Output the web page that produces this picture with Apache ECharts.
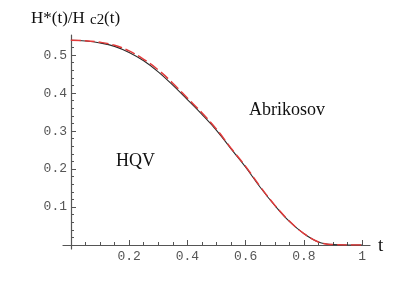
<!DOCTYPE html>
<html>
<head>
<meta charset="utf-8">
<script src="https://cdn.jsdelivr.net/npm/echarts@6/dist/echarts.min.js"></script>
<style>
html,body{margin:0;padding:0;background:#fff;}
#c{width:415px;height:289px;}
</style>
</head>
<body>
<div id="c"></div>
<script>
var tValues = [0, 0.05, 0.1, 0.15, 0.2, 0.25, 0.3, 0.35, 0.4, 0.45, 0.5, 0.55, 0.6, 0.65, 0.7, 0.75, 0.8, 0.85, 0.9, 0.95, 1.0];
var blackCurve = [0.539, 0.537, 0.532, 0.523, 0.507, 0.485, 0.456, 0.421, 0.383, 0.344, 0.302, 0.253, 0.205, 0.152, 0.104, 0.062, 0.030, 0.008, 0.001, 0, 0];
var redCurve = [0.539, 0.538, 0.534, 0.526, 0.511, 0.489, 0.461, 0.426, 0.387, 0.348, 0.305, 0.255, 0.207, 0.154, 0.105, 0.063, 0.030, 0.008, 0.001, 0, 0];
var xMajorTicks = [0.2, 0.4, 0.6, 0.8, 1];
var xMinorTicks = [0.05, 0.1, 0.15, 0.25, 0.3, 0.35, 0.45, 0.5, 0.55, 0.65, 0.7, 0.75, 0.85, 0.9, 0.95];
var yMajorTicks = [0.1, 0.2, 0.3, 0.4, 0.5];
var yMinorTicks = [0.02, 0.04, 0.06, 0.08, 0.12, 0.14, 0.16, 0.18, 0.22, 0.24, 0.26, 0.28, 0.32, 0.34, 0.36, 0.38, 0.42, 0.44, 0.46, 0.48, 0.52, 0.54];

function pairs(xs, ys) { return xs.map(function (x, i) { return [x, ys[i]]; }); }
function fmt(v) { return Math.abs(v - 1) < 1e-9 ? '1' : v.toFixed(1); }

var axisColor = '#555';
var labelStyle = { fontFamily: 'Liberation Mono', fontSize: 13, color: '#555' };

var chart = echarts.init(document.getElementById('c'), null, { renderer: 'canvas' });
chart.setOption({
  animation: false,
  grid: [
    { left: 63, top: 35, width: 307, height: 210 },
    { left: 71, top: 35, width: 291, height: 214 }
  ],
  xAxis: [
    { gridIndex: 0, type: 'value', min: -0.027, max: 1.027, position: 'bottom',
      axisLine: { onZero: false, lineStyle: { color: axisColor, width: 1.2 } },
      axisTick: { inside: true, length: 5, customValues: xMajorTicks, lineStyle: { color: axisColor } },
      axisLabel: { customValues: xMajorTicks, formatter: fmt, margin: 5, fontFamily: labelStyle.fontFamily, fontSize: labelStyle.fontSize, color: labelStyle.color },
      splitLine: { show: false } },
    { gridIndex: 0, type: 'value', min: -0.027, max: 1.027, position: 'bottom',
      axisLine: { show: false, onZero: false },
      axisTick: { inside: true, length: 3, customValues: xMinorTicks, lineStyle: { color: axisColor } },
      axisLabel: { show: false },
      splitLine: { show: false } },
    { gridIndex: 1, type: 'value', min: 0, max: 1, show: false }
  ],
  yAxis: [
    { gridIndex: 0, type: 'value', min: 0, max: 0.553, show: false },
    { gridIndex: 1, type: 'value', min: -0.0105, max: 0.553, position: 'left',
      axisLine: { show: true, onZero: false, lineStyle: { color: axisColor, width: 1.2 } },
      axisTick: { show: true, inside: true, length: 5, customValues: yMajorTicks, lineStyle: { color: axisColor } },
      axisLabel: { customValues: yMajorTicks, formatter: fmt, margin: 4, fontFamily: labelStyle.fontFamily, fontSize: labelStyle.fontSize, color: labelStyle.color },
      splitLine: { show: false } },
    { gridIndex: 1, type: 'value', min: -0.0105, max: 0.553, position: 'left',
      axisLine: { show: false, onZero: false },
      axisTick: { show: true, inside: true, length: 3, customValues: yMinorTicks, lineStyle: { color: axisColor } },
      axisLabel: { show: false },
      splitLine: { show: false } }
  ],
  series: [
    { type: 'line', xAxisIndex: 0, yAxisIndex: 0, data: pairs(tValues, blackCurve), smooth: 0.4,
      showSymbol: false, lineStyle: { color: '#2a2a2a', width: 1.1 } },
    { type: 'line', xAxisIndex: 0, yAxisIndex: 0, data: pairs(tValues, redCurve), smooth: 0.4,
      showSymbol: false, lineStyle: { color: '#e23a3a', width: 1.5, type: [10, 4] } }
  ],
  graphic: [
    { type: 'text', left: 31, top: 10, style: { text: 'H*(t)/H', font: '17px "Liberation Serif"', fill: '#111' } },
    { type: 'text', left: 90, top: 13, style: { text: 'c2', font: '15px "Liberation Serif"', fill: '#111' } },
    { type: 'text', left: 104, top: 10, style: { text: '(t)', font: '17px "Liberation Serif"', fill: '#111' } },
    { type: 'text', left: 249, top: 101, style: { text: 'Abrikosov', font: '18px "Liberation Serif"', fill: '#111' } },
    { type: 'text', left: 116, top: 152, style: { text: 'HQV', font: '18px "Liberation Serif"', fill: '#111' } },
    { type: 'text', left: 378, top: 237, style: { text: 't', font: '19px "Liberation Serif"', fill: '#111' } }
  ]
});
</script>
</body>
</html>
